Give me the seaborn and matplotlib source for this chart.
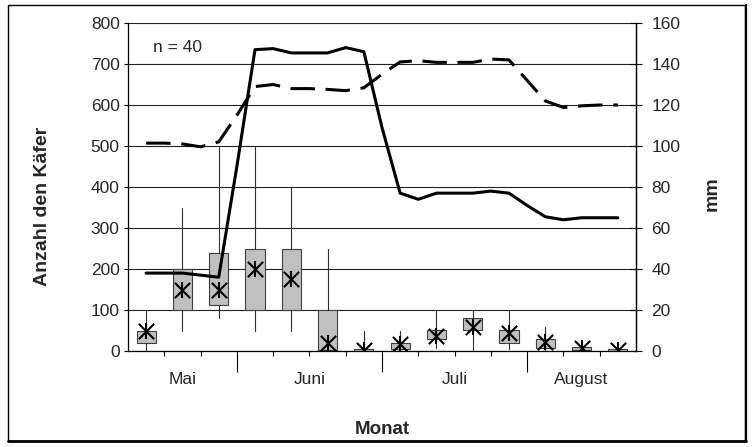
import numpy as np
import pandas as pd
import matplotlib
matplotlib.use("Agg")
import matplotlib.pyplot as plt
import matplotlib.transforms as mtransforms
from matplotlib.patches import Rectangle
from matplotlib.lines import Line2D
import seaborn as sns

# Monate und Anzahl Termine pro Monat
months = ["Mai", "Juni", "Juli", "August"]
month_sizes = [3, 4, 4, 3]

# Käfer je Termin: unterer Whisker, Q1, Q3, oberer Whisker, Mittelwert
low = [3, 50, 80, 50, 50, 0, 0, 2, 7, 3, 4, 2, 1, 0]
q1 = [20, 100, 113, 100, 100, 3, 0, 5, 29, 51, 20, 7, 2, 0]
q3 = [50, 200, 238, 250, 250, 100, 5, 20, 51, 80, 51, 29, 10, 4]
high = [100, 350, 500, 500, 400, 250, 50, 50, 100, 100, 100, 58, 22, 5]
mean = [50, 150, 150, 200, 175, 20, 2, 18, 37, 59, 43, 23, 8, 2]

# Linien (mm), Werte alle halbe Kategorie
line_pos = np.arange(0, 13.5, 0.5)
solid_mm = [38, 38, 38, 37, 36, 90, 147, 147.5, 145.4, 145.4, 145.4, 148, 146, 109,
            77, 74, 77, 77, 77, 78, 77, 71, 65.5, 64, 65, 65, 65]
dashed_mm = [101.4, 101.4, 101, 99.6, 102, 115, 129, 130, 128, 128, 127.6, 127, 128.4, 135,
             141, 141.6, 140.8, 140.8, 140.8, 142.4, 142, 132, 122, 118.8, 119.6, 120, 120]


def main():
    sns.set_theme(style="white")
    plt.rcParams["font.family"] = ["Liberation Sans", "DejaVu Sans"]

    fig = plt.figure(figsize=(7.52, 4.47), dpi=100)
    ax = fig.add_axes([128 / 752, 1 - 351 / 447, 508 / 752, 328 / 447])

    pos = np.arange(len(mean))

    # boxes
    stats = [dict(whislo=l, q1=a, med=a, q3=b, whishi=h, fliers=[])
             for l, a, b, h in zip(low, q1, q3, high)]
    ax.bxp(stats, positions=pos, widths=0.53, patch_artist=True, showcaps=False,
           showfliers=False, manage_ticks=False,
           boxprops=dict(facecolor="#c0c0c0", edgecolor="#404040", linewidth=0.8),
           whiskerprops=dict(color="#303030", linewidth=0.8),
           medianprops=dict(linewidth=0))

    # Mittelwert als Stern
    sns.scatterplot(x=pos, y=mean, marker="x", s=121, color="black", linewidth=1.5,
                    ax=ax, zorder=4, legend=False)
    sns.scatterplot(x=pos, y=mean, marker="|", s=121, color="black", linewidth=1.5,
                    ax=ax, zorder=4, legend=False)

    ax.set_xlim(-0.5, len(mean) - 0.5)
    ax.set_ylim(0, 800)
    ax.set_yticks(range(0, 801, 100))
    ax.yaxis.grid(True, color="#222222", linewidth=0.8)
    ax.set_axisbelow(True)
    ax.set_xlabel("")
    ax.set_ylabel("")

    bounds = np.cumsum(month_sizes)[:-1] - 0.5
    minor = [b for b in np.arange(0.5, len(mean) - 0.5) if b not in bounds]
    ax.set_xticks(bounds)
    ax.set_xticks(minor, minor=True)
    ax.tick_params(axis="x", which="major", direction="out", length=15, width=0.8,
                   color="black", labelbottom=False, bottom=True)
    ax.tick_params(axis="x", which="minor", direction="out", length=3.5, width=0.8,
                   color="black", bottom=True)
    ax.tick_params(axis="y", direction="out", length=3, width=0.8, color="black",
                   pad=3, labelsize=12.5, left=True)

    for side in ["left", "bottom", "right"]:
        ax.spines[side].set_color("black")
        ax.spines[side].set_linewidth(0.9)
    ax.spines["top"].set_visible(False)

    # Monatsnamen
    trans = mtransforms.blended_transform_factory(ax.transData, ax.transAxes)
    starts = np.concatenate([[0], np.cumsum(month_sizes)[:-1]])
    for name, s, n in zip(months, starts, month_sizes):
        ax.text(s + (n - 1) / 2, -0.088, name, transform=trans, ha="center", va="center",
                fontsize=12.5)

    ax.text(0.049, 0.924, "n = 40", transform=ax.transAxes, ha="left", va="center",
            fontsize=12.5)

    # rechte Achse mit Linien
    ax2 = ax.twinx()
    df = pd.DataFrame({
        "pos": np.concatenate([line_pos, line_pos]),
        "mm": solid_mm + dashed_mm,
        "Reihe": ["a"] * len(solid_mm) + ["b"] * len(dashed_mm),
    })
    sns.lineplot(data=df, x="pos", y="mm", style="Reihe", dashes={"a": "", "b": (8, 3.5)},
                 color="black", linewidth=2.2, estimator=None, ax=ax2, legend=False)
    ax2.set_ylim(0, 160)
    ax2.set_yticks(range(0, 161, 20))
    ax2.set_ylabel("")
    ax2.tick_params(axis="y", direction="inout", length=8, width=0.8, color="black",
                    pad=7, labelsize=12.5, right=True)
    for side in ["left", "bottom", "top"]:
        ax2.spines[side].set_visible(False)
    ax2.spines["right"].set_color("black")
    ax2.spines["right"].set_linewidth(0.9)

    fig.text(43 / 752, 1 - 206 / 447, "Anzahl den Käfer", rotation=90, ha="center",
             va="center", fontsize=14, fontweight="bold")
    fig.text(712 / 752, 1 - 194 / 447, "mm", rotation=90, ha="center", va="center",
             fontsize=14, fontweight="bold")
    fig.text(382 / 752, 1 - 429 / 447, "Monat", ha="center", va="center", fontsize=13.5,
             fontweight="bold")

    # Rahmen mit etwas dickerer Unter-/Rechtskante
    fig.add_artist(Rectangle((8 / 752, 6 / 447), 737 / 752, 436 / 447,
                             transform=fig.transFigure, fill=False, edgecolor="black",
                             linewidth=1.0))
    fig.add_artist(Line2D([8 / 752, 746 / 752], [6 / 447, 6 / 447],
                          transform=fig.transFigure, color="black", linewidth=2.0))
    fig.add_artist(Line2D([745.5 / 752, 745.5 / 752], [6 / 447, 442 / 447],
                          transform=fig.transFigure, color="black", linewidth=1.6))

    fig.savefig("out.png", dpi=100)


if __name__ == "__main__":
    main()
